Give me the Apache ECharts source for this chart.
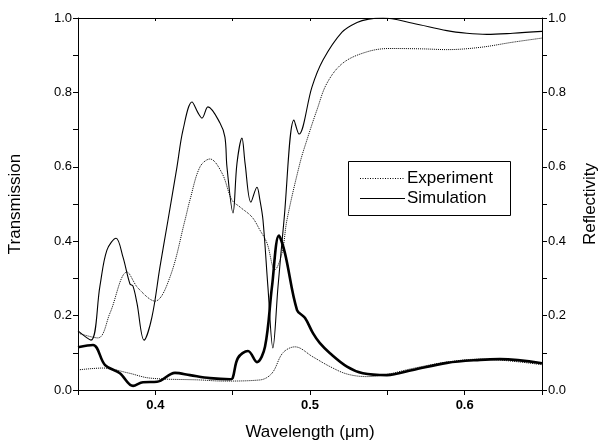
<!DOCTYPE html>
<html><head><meta charset="utf-8">
<script src="https://cdn.jsdelivr.net/npm/echarts@6/dist/echarts.min.js"></script>
<style>html,body{margin:0;padding:0;background:#fff}#c{width:600px;height:443px}</style>
</head><body><div id="c"></div>
<script>
// Transmission, simulation (thin solid): [wavelength um, value]
var transSimX = [0.350,0.3584,0.3642,0.3687,0.3746,0.3791,0.3836,0.3855,0.3881,0.3927,0.3978,0.4030,0.4082,0.4140,0.4179,0.4237,0.4276,0.4302,0.4340,0.4418,0.4450,0.4463,0.4502,0.4528,0.4560,0.4580,0.4618,0.4657,0.4676,0.4696,0.4728,0.4760,0.4793,0.4832,0.4896,0.4929,0.5013,0.5084,0.5207,0.5304,0.5380,0.5472,0.5665,0.5885,0.6014,0.6144,0.6312,0.650];
var transSimY = [0.159,0.134,0.280,0.376,0.408,0.357,0.285,0.280,0.234,0.134,0.196,0.331,0.457,0.600,0.699,0.774,0.745,0.731,0.761,0.718,0.680,0.600,0.476,0.610,0.677,0.610,0.505,0.545,0.511,0.457,0.277,0.113,0.277,0.457,0.726,0.688,0.815,0.887,0.962,0.988,0.997,1.000,0.986,0.966,0.959,0.956,0.959,0.964];
// Transmission, experiment (thin dotted)
var transExpX = [0.350,0.3629,0.3707,0.3817,0.3888,0.3998,0.4095,0.4192,0.4224,0.4289,0.4353,0.4431,0.4495,0.4547,0.4625,0.4676,0.4722,0.4773,0.4819,0.4851,0.4935,0.4980,0.5045,0.5110,0.5213,0.5368,0.5517,0.5730,0.5885,0.6099,0.6312,0.650];
var transExpY = [0.153,0.140,0.207,0.317,0.274,0.239,0.304,0.457,0.511,0.600,0.621,0.583,0.511,0.492,0.465,0.430,0.395,0.323,0.368,0.457,0.610,0.672,0.753,0.825,0.879,0.909,0.918,0.917,0.915,0.921,0.935,0.946];
// Reflectivity, simulation (thick solid)
var reflSimX = [0.350,0.3597,0.3675,0.3771,0.3856,0.3920,0.4011,0.4127,0.4224,0.4353,0.4483,0.4500,0.4534,0.4599,0.4657,0.4709,0.4754,0.4799,0.4838,0.4916,0.4967,0.5019,0.5064,0.5129,0.5239,0.5342,0.5497,0.5665,0.5885,0.6099,0.6228,0.650];
var reflSimY = [0.115,0.121,0.067,0.045,0.011,0.021,0.022,0.046,0.040,0.032,0.029,0.032,0.086,0.105,0.075,0.116,0.277,0.415,0.368,0.215,0.194,0.153,0.126,0.099,0.063,0.045,0.040,0.054,0.073,0.081,0.083,0.072];
// Reflectivity, experiment (thin dotted)
var reflExpX = [0.350,0.3662,0.3823,0.3965,0.4289,0.4437,0.4676,0.4754,0.4825,0.4903,0.5019,0.5129,0.5239,0.5368,0.5497,0.5665,0.5885,0.6099,0.650];
var reflExpY = [0.054,0.059,0.046,0.032,0.027,0.024,0.027,0.045,0.100,0.116,0.089,0.063,0.043,0.036,0.042,0.058,0.075,0.083,0.068];

var legendNames = ['Experiment', 'Simulation'];
var xTitle = 'Wavelength (\u03bcm)';
var yLeftTitle = 'Transmission';
var yRightTitle = 'Reflectivity';

function pairs(xs, ys){ return xs.map(function(x,i){ return [x, ys[i]]; }); }

var FONT = 'Arial, "Liberation Sans", sans-serif';
var chart = echarts.init(document.getElementById('c'), null, {renderer:'canvas'});
var yAxisBase = function(pos, name, gap){
  return {
    type:'value', position:pos, min:0, max:1, interval:0.2,
    name:name, nameLocation:'middle', nameGap:gap, nameRotate:90,
    nameTextStyle:{fontFamily:FONT, fontSize:17, color:'#000'},
    axisLine:{show:true, lineStyle:{color:'#000', width:1}},
    axisTick:{show:true, inside:false, length:5, lineStyle:{color:'#000'}},
    minorTick:{show:true, splitNumber:2, length:5, lineStyle:{color:'#000'}},
    splitLine:{show:false},
    axisLabel:{fontFamily:FONT, fontSize:13, color:'#000', margin:6,
      formatter:function(v){ return v.toFixed(1); }}
  };
};
// legend box (drawn as graphic so the sample lines carry no symbols)
var LX = 348, LY = 161, LW = 162, LH = 54;
var option = {
  backgroundColor:'#fff',
  animation:false,
  grid:{left:78, right:58, top:18, bottom:53, containLabel:false, outerBoundsMode:'none'},
  graphic:[
    {type:'rect', shape:{x:LX+0.5, y:LY+0.5, width:LW, height:LH}, style:{fill:'#fff', stroke:'#000', lineWidth:1}, z:100},
    {type:'line', shape:{x1:LX+12, y1:LY+17.5, x2:LX+57, y2:LY+17.5}, style:{stroke:'#000', lineWidth:1, lineDash:[1,1.5]}, z:101},
    {type:'line', shape:{x1:LX+12, y1:LY+37.5, x2:LX+57, y2:LY+37.5}, style:{stroke:'#000', lineWidth:1.1}, z:101},
    {type:'text', x:LX+59, y:LY+17.5, style:{text:legendNames[0], fontFamily:FONT, fontSize:17, fill:'#000', textVerticalAlign:'middle', verticalAlign:'middle'}, z:101},
    {type:'text', x:LX+59, y:LY+37.5, style:{text:legendNames[1], fontFamily:FONT, fontSize:17, fill:'#000', textVerticalAlign:'middle', verticalAlign:'middle'}, z:101}
  ],
  xAxis:[{
    type:'value', min:0.35, max:0.65, interval:0.05, position:'bottom',
    name:xTitle, nameLocation:'middle', nameGap:34,
    nameTextStyle:{fontFamily:FONT, fontSize:17, color:'#000'},
    axisLine:{show:true, onZero:false, lineStyle:{color:'#000', width:1}},
    axisTick:{show:true, length:5, lineStyle:{color:'#000'}},
    splitLine:{show:false},
    axisLabel:{fontFamily:FONT, fontSize:13, fontWeight:'bold', color:'#000', margin:9,
      formatter:function(v){ var t=v*10; return Math.abs(t-Math.round(t))<1e-6 ? v.toFixed(1) : ''; }}
  },{
    type:'value', min:0.35, max:0.65, interval:0.05, position:'top',
    axisLine:{show:true, onZero:false, lineStyle:{color:'#000', width:1}},
    axisTick:{show:true, inside:true, length:3, lineStyle:{color:'#000'}},
    axisLabel:{show:false}, splitLine:{show:false}
  }],
  yAxis:[yAxisBase('left', yLeftTitle, 54), yAxisBase('right', yRightTitle, 40)],
  series:[
    {name:'Transmission experiment', type:'line', xAxisIndex:0, yAxisIndex:0, data:pairs(transExpX, transExpY),
     smooth:0.35, symbol:'none', lineStyle:{color:'#000', width:1, type:'dotted'}},
    {name:'Transmission simulation', type:'line', xAxisIndex:0, yAxisIndex:0, data:pairs(transSimX, transSimY),
     smooth:0.35, symbol:'none', lineStyle:{color:'#000', width:1.1, type:'solid'}},
    {name:'Reflectivity experiment', type:'line', xAxisIndex:0, yAxisIndex:1, data:pairs(reflExpX, reflExpY),
     smooth:0.35, symbol:'none', lineStyle:{color:'#000', width:1, type:'dotted'}},
    {name:'Reflectivity simulation', type:'line', xAxisIndex:0, yAxisIndex:1, data:pairs(reflSimX, reflSimY),
     smooth:0.35, symbol:'none', lineStyle:{color:'#000', width:2.6, type:'solid'}}
  ]
};
chart.setOption(option);
</script></body></html>
